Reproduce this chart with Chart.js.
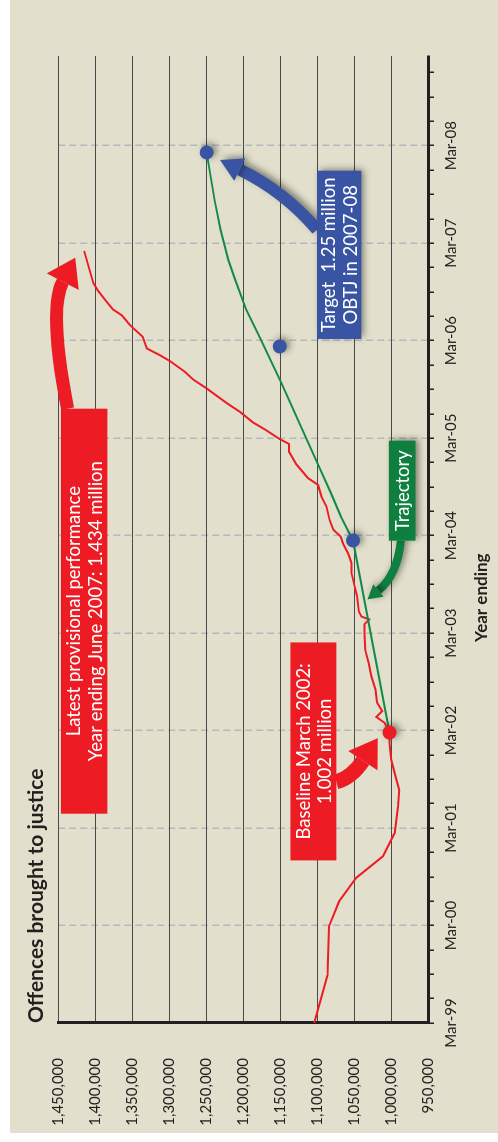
<!DOCTYPE html>
<html>
<head>
<meta charset="utf-8">
<title>Offences brought to justice</title>
<script src="https://cdn.jsdelivr.net/npm/chart.js@4.4.1/dist/chart.umd.min.js"></script>
<style>
  html, body { margin: 0; padding: 0; background: #fff; overflow: hidden; }
  /* chart is laid out landscape and turned a quarter anticlockwise */
  #wrap {
    position: absolute; left: 0; top: 0;
    width: 1142px; height: 498px;
    transform-origin: 0 0;
    transform: translate(0, 1142px) rotate(-90deg);
  }
</style>
</head>
<body>
<div id="wrap"><canvas id="obtjChart" width="1142" height="498"></canvas></div>
<script>
// x values are years counted from year ending March 1999
const yearLabels = ["Mar-99", "Mar-00", "Mar-01", "Mar-02", "Mar-03", "Mar-04", "Mar-05", "Mar-06", "Mar-07", "Mar-08"];

const actualYears = [0, 0.49, 0.99, 1.25, 1.49, 1.71, 1.95, 2.22, 2.39, 2.53, 2.70, 2.87, 2.98,
  3.08, 3.14, 3.20, 3.29, 3.42, 3.56, 3.69, 3.83, 4.00, 4.09, 4.14, 4.17, 4.22, 4.38, 4.48,
  4.62, 4.72, 4.82, 4.92, 4.99, 5.06, 5.16, 5.30, 5.40, 5.52, 5.59, 5.73, 5.86, 5.94, 5.99,
  6.09, 6.16, 6.27, 6.36, 6.51, 6.60, 6.68, 6.79, 6.85, 6.92, 7.04, 7.16, 7.26, 7.32, 7.42,
  7.51, 7.59, 7.92];
const actualValues = [1104000, 1086000, 1084000, 1070000, 1047000, 1011000, 995000, 990700, 989000, 994000, 999700, 1002000, 1002000,
  1008700, 1020000, 1012000, 1019000, 1021000, 1026700, 1030000, 1035000, 1036000, 1036000, 1029500, 1040000, 1043500, 1046000, 1049200,
  1053600, 1053600, 1058200, 1065000, 1068000, 1078000, 1083000, 1087400, 1094100, 1098700, 1112200, 1127900, 1137800, 1137800, 1150400,
  1170600, 1186400, 1204400, 1222300, 1249300, 1267400, 1278600, 1298800, 1312300, 1330300, 1335700, 1353000, 1364000, 1376000, 1386600,
  1396000, 1402400, 1414900];

const trajectoryYears = [2.98, 4.95, 5.20, 5.44, 5.71, 6.12, 6.56, 7.01, 7.32, 7.63, 7.83, 8.14, 8.44, 8.93];
const trajectoryValues = [1002000, 1051500, 1068000, 1081500, 1097500, 1122000, 1148000, 1176000, 1196000, 1211000, 1220000, 1230500, 1238500, 1249300];

const milestoneYears = [4.95, 6.94, 8.93];
const milestoneValues = [1051500, 1150400, 1249300];

const baselineYears = [2.98];
const baselineValues = [1002000];

const RED = "#ed1c24";
const BLUE = "#3a54a4";
const GREEN = "#0f7f3f";
const INK = "#231f20";
const FONT = "Lato, 'Open Sans', sans-serif";

function toPoints(xs, ys) {
  return xs.map((x, i) => ({ x: x, y: ys[i] }));
}

function withCommas(n) {
  return String(n).replace(/\B(?=(\d{3})+(?!\d))/g, ",");
}

// call-out boxes and arrows, placed in data units
const callouts = [
  {
    color: RED, shadow: false,
    box: [2.147, 6.302, 1383500, 1446300],
    lines: ["Latest provisional performance", "Year ending June 2007: 1.434 million"],
    arrow: { p0: [6.302, 1437200], c: [7.318, 1463500], p2: [7.605, 1443900], width: 13, head: 27, headW: 36 }
  },
  {
    color: RED, shadow: false,
    box: [1.668, 3.904, 1073900, 1136000],
    lines: ["Baseline March 2002:", "1.002 million"],
    arrow: { p0: [2.475, 1073900], c: [2.516, 1053200], p2: [2.691, 1038000], width: 15, head: 27, headW: 35 }
  },
  {
    color: BLUE, shadow: true,
    box: [7.017, 8.743, 1040100, 1100100],
    lines: ["Target  1.25 million", "OBTJ in 2007-08"],
    arrow: { p0: [8.138, 1100100], c: [8.528, 1143700], p2: [8.754, 1204400], width: 12, head: 22, headW: 25 }
  },
  {
    color: GREEN, shadow: true,
    box: [4.948, 5.974, 966900, 1002900],
    lines: ["Trajectory"],
    arrow: { p0: [4.948, 986700], c: [4.599, 991200], p2: [4.437, 1017100], width: 8, head: 14, headW: 16 }
  }
];

function setShadow(ctx) {
  ctx.shadowColor = "rgba(0,0,0,0.45)";
  ctx.shadowBlur = 7;
  ctx.shadowOffsetX = 2;
  ctx.shadowOffsetY = 3;
}

const backdrop = {
  id: "backdrop",
  beforeDraw(chart) {
    const ctx = chart.ctx;
    ctx.save();
    ctx.fillStyle = "#e2e0cc";
    ctx.fillRect(9, 10, chart.width - 9, chart.height - 10);
    ctx.restore();
  }
};

const dotShadow = {
  id: "dotShadow",
  beforeDatasetDraw(chart, args) {
    if (!chart.data.datasets[args.index].shadow) return;
    chart.ctx.save();
    setShadow(chart.ctx);
  },
  afterDatasetDraw(chart, args) {
    if (!chart.data.datasets[args.index].shadow) return;
    chart.ctx.restore();
  }
};

const calloutLayer = {
  id: "calloutLayer",
  afterDatasetsDraw(chart) {
    const ctx = chart.ctx;
    const xs = chart.scales.x, ys = chart.scales.y;
    const px = (p) => [xs.getPixelForValue(p[0]), ys.getPixelForValue(p[1])];

    callouts.forEach((co) => {
      ctx.save();
      if (co.shadow) setShadow(ctx);

      // arrow shaft and head
      const a = co.arrow;
      const p0 = px(a.p0), c = px(a.c), p2 = px(a.p2);
      ctx.strokeStyle = co.color;
      ctx.lineWidth = a.width;
      ctx.lineCap = "butt";
      ctx.beginPath();
      ctx.moveTo(p0[0], p0[1]);
      ctx.quadraticCurveTo(c[0], c[1], p2[0], p2[1]);
      ctx.stroke();
      const dx = p2[0] - c[0], dy = p2[1] - c[1];
      const len = Math.hypot(dx, dy);
      const ux = dx / len, uy = dy / len;
      ctx.fillStyle = co.color;
      ctx.beginPath();
      ctx.moveTo(p2[0] + ux * a.head, p2[1] + uy * a.head);
      ctx.lineTo(p2[0] - uy * a.headW / 2, p2[1] + ux * a.headW / 2);
      ctx.lineTo(p2[0] + uy * a.headW / 2, p2[1] - ux * a.headW / 2);
      ctx.closePath();
      ctx.fill();

      // box
      const l = xs.getPixelForValue(co.box[0]), r = xs.getPixelForValue(co.box[1]);
      const t = ys.getPixelForValue(co.box[3]), b = ys.getPixelForValue(co.box[2]);
      ctx.fillRect(l, t, r - l, b - t);
      ctx.restore();

      // text
      ctx.save();
      ctx.fillStyle = "#ffffff";
      ctx.font = "18.5px " + FONT;
      ctx.textAlign = "center";
      ctx.textBaseline = "middle";
      const cx = (l + r) / 2, cy = (t + b) / 2;
      const lh = 21.5;
      co.lines.forEach((txt, i) => {
        ctx.fillText(txt, cx, cy + (i - (co.lines.length - 1) / 2) * lh + 1);
      });
      ctx.restore();
    });

    // x axis caption sits off-centre in the original
    ctx.save();
    ctx.fillStyle = INK;
    ctx.font = "bold 17px " + FONT;
    ctx.textAlign = "center";
    ctx.textBaseline = "middle";
    ctx.fillText("Year ending", xs.getPixelForValue(4.363), ys.getPixelForValue(877800));
    ctx.restore();
  }
};

const isYear = (v) => Math.abs(v - Math.round(v)) < 1e-6;

const ctx = document.getElementById("obtjChart").getContext("2d");
new Chart(ctx, {
  type: "line",
  data: {
    datasets: [
      {
        label: "Baseline",
        data: toPoints(baselineYears, baselineValues),
        showLine: false,
        pointRadius: 7,
        pointBackgroundColor: RED,
        pointBorderWidth: 0,
        shadow: true,
        order: 0,
      },
      {
        label: "Milestones",
        data: toPoints(milestoneYears, milestoneValues),
        showLine: false,
        pointRadius: 7,
        pointBackgroundColor: BLUE,
        pointBorderWidth: 0,
        shadow: true,
        order: 1,
      },
      {
        label: "Trajectory",
        data: toPoints(trajectoryYears, trajectoryValues),
        borderColor: "#138a46",
        borderWidth: 2,
        pointRadius: 0,
        tension: 0,
        order: 2,
      },
      {
        label: "Offences brought to justice",
        data: toPoints(actualYears, actualValues),
        borderColor: RED,
        borderWidth: 2,
        pointRadius: 0,
        tension: 0,
        order: 3,
      },
    ],
  },
  options: {
    responsive: false,
    animation: false,
    devicePixelRatio: 1,
    layout: {
      padding: { top: 10, right: 56, bottom: 0, left: 0 },
    },
    plugins: {
      legend: { display: false },
      tooltip: { enabled: false },
      title: {
        display: true,
        text: "Offences brought to justice",
        align: "start",
        fullSize: false,
        color: INK,
        font: { family: FONT, size: 21, weight: "bold", lineHeight: 1.2 },
        padding: { top: 14, bottom: 9 },
      },
    },
    scales: {
      x: {
        type: "linear",
        min: 0,
        max: 9.92,
        afterFit: (scale) => { scale.height = 70; },
        ticks: {
          stepSize: 0.25,
          includeBounds: false,
          autoSkip: false,
          maxRotation: 0,
          padding: 8,
          color: INK,
          font: { family: FONT, size: 15 },
          callback: (v) => (isYear(v) ? yearLabels[Math.round(v)] || "" : ""),
        },
        grid: {
          color: (c) => (c.tick && isYear(c.tick.value) ? "#b6b6bd" : "rgba(0,0,0,0)"),
          lineWidth: 1.5,
          tickColor: INK,
          tickWidth: 1.5,
          tickLength: 6,
        },
        border: { color: INK, width: 3, dash: [7, 4] },
      },
      y: {
        min: 950000,
        max: 1450000,
        afterFit: (scale) => { scale.width = 119; },
        ticks: {
          stepSize: 50000,
          padding: 35,
          color: INK,
          font: { family: FONT, size: 15 },
          callback: (v) => withCommas(v),
        },
        grid: {
          color: (c) => (c.tick && c.tick.value === 950000 ? "rgba(0,0,0,0)" : "#4a4a4a"),
          lineWidth: 1,
          drawTicks: false,
        },
        border: { color: INK, width: 3 },
      },
    },
  },
  plugins: [backdrop, dotShadow, calloutLayer],
});
</script>
</body>
</html>
